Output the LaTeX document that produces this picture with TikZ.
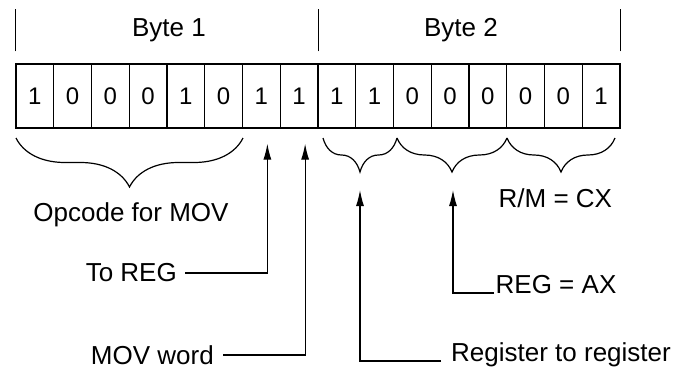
\documentclass[tikz,border=0pt]{standalone}
\usepackage{fontspec}
\setmainfont{Liberation Sans}
\usetikzlibrary{arrows.meta,positioning,decorations.pathreplacing}

\begin{document}
\begin{tikzpicture}[
    x=1pt,y=-1pt,
    bit/.style={draw=black,line width=1.2pt,minimum width=37.75pt,minimum height=64pt,
      inner sep=0pt,font=\fontsize{24}{26}\selectfont},
    lbl/.style={inner sep=1.5pt,font=\fontsize{26}{30}\selectfont},
    tick/.style={draw=black,line width=1.4pt},
    curly/.style={decorate,decoration={brace,mirror,amplitude=#1},draw=black,line width=1.2pt},
    arrow/.style={-{Latex[length=16pt,width=8pt]},draw=black,line width=1.2pt}
  ]
    \useasboundingbox (0,0) rectangle (673,370);
    \foreach \b [count=\i] in {1,0,0,0,1,0,1,1,1,1,0,0,0,0,0,1}
      \node[bit] (c\i) at ({16+37.75*(\i-0.5)},96) {\b};
    \foreach \c in {c1.north west,c8.north east,c16.north east}
      \draw[tick] ([yshift=12pt]\c) -- ([yshift=54pt]\c);
    \node[lbl] (byte1) at (169,30) {Byte 1};
    \node[lbl] (byte2) at (461,30) {Byte 2};
    \draw[curly=49pt] (16,138) -- (243,138);
    \draw[curly=34pt] (323,138) -- (397,138);
    \draw[curly=34pt] (397,138) -- (507,138);
    \draw[curly=34pt] (507,138) -- (615,138);
    \node[lbl] (opcode) at (131,215) {Opcode for MOV};
    \node[lbl,anchor=west] (rmcx) at (497,198) {R/M = CX};
    \node[lbl,anchor=east,inner xsep=8pt] (toreg) at (185,273) {To REG};
    \node[lbl,anchor=east,inner xsep=9pt] (movw) at (223,355) {MOV word};
    \node[lbl,anchor=base west] (regax) at (494,293) {REG = AX};
    \node[lbl,anchor=base west,inner xsep=10pt] (regreg) at (441,361) {Register to register};
    \coordinate (modtip) at (360,190);
    \coordinate (regtip) at (453,190);
    \draw[arrow,shorten >=15pt] (toreg.east) -| ([xshift=6pt]c7.south);
    \draw[arrow,shorten >=15pt] (movw.east) -| ([xshift=6pt]c8.south);
    \draw[arrow] (regreg.base west) -| (modtip);
    \draw[arrow] (regax.base west) -| (regtip);
  \end{tikzpicture}
\end{document}
